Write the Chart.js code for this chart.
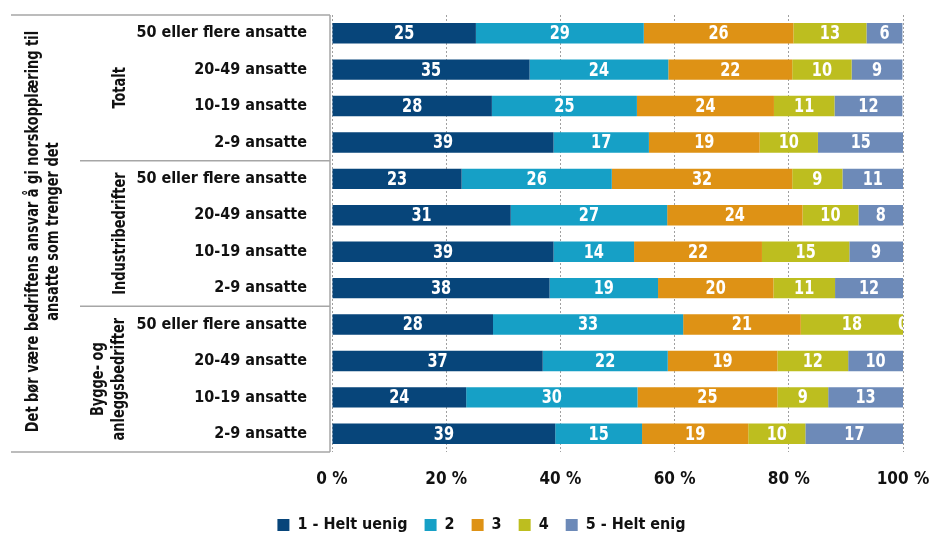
<!DOCTYPE html>
<html>
<head>
<meta charset="utf-8">
<script src="https://cdn.jsdelivr.net/npm/chart.js@4/dist/chart.umd.min.js"></script>
<style>
  html, body { margin: 0; padding: 0; background: #fff; }
  #wrap { width: 931px; height: 536px; }
</style>
</head>
<body>
<div id="wrap"><canvas id="chart"></canvas></div>
<script>
const FONT = '"DejaVu Sans Condensed", "Liberation Sans Narrow", sans-serif';

const categories = [
  '50 eller flere ansatte', '20-49 ansatte', '10-19 ansatte', '2-9 ansatte',
  '50 eller flere ansatte', '20-49 ansatte', '10-19 ansatte', '2-9 ansatte',
  '50 eller flere ansatte', '20-49 ansatte', '10-19 ansatte', '2-9 ansatte'
];
const groups = [['Totalt'], ['Industribedrifter'], ['Bygge- og', 'anleggsbedrifter']];
const outerTitle = ['Det bør være bedriftens ansvar å gi norskopplæring til', 'ansatte som trenger det'];

const seriesNames = ['1 - Helt uenig', '2', '3', '4', '5 - Helt enig'];
const seriesColors = ['#07457a', '#16a0c6', '#de9215', '#bdbe1f', '#6d8ab8'];

const heltUenig = [25.2, 34.6, 28.0, 38.8, 22.7, 31.3, 38.8, 38.1, 28.2, 36.9, 23.5, 39.1];
const s2        = [29.4, 24.3, 25.4, 16.7, 26.3, 27.4, 14.1, 19.0, 33.3, 21.9, 30.0, 15.2];
const s3        = [26.2, 21.7, 24.0, 19.4, 31.6, 23.7, 22.4, 20.2, 20.6, 19.2, 24.5, 18.6];
const s4        = [12.8, 10.4, 10.6, 10.2,  8.8,  9.8, 15.3, 10.8, 17.9, 12.4,  8.9, 10.0];
const heltEnig  = [ 6.3,  8.9, 11.9, 15.0, 10.6,  7.8,  9.4, 11.9,  0.0,  9.6, 13.1, 17.2];
const seriesValues = [heltUenig, s2, s3, s4, heltEnig];

const xTicks = [0, 20, 40, 60, 80, 100];

// draws text squeezed sideways so it looks like the narrow font of the original
function narrowText(ctx, text, x, y, squeeze) {
  ctx.save();
  ctx.translate(x, y);
  ctx.scale(squeeze, 1);
  ctx.fillText(text, 0, 0);
  ctx.restore();
}

// no extra room for overhanging tick labels, the layout padding handles it
function noScalePadding(scale) {
  scale.paddingTop = 0;
  scale.paddingBottom = 0;
  scale.paddingLeft = 0;
  scale.paddingRight = 0;
}

// white value labels in the middle of each segment
const valueLabels = {
  id: 'valueLabels',
  afterDatasetsDraw(chart) {
    const ctx = chart.ctx;
    const area = chart.chartArea;
    ctx.save();
    ctx.beginPath();
    ctx.rect(area.left, area.top - 20, area.right - area.left, area.bottom - area.top + 40);
    ctx.clip();
    ctx.font = 'bold 19px ' + FONT;
    ctx.fillStyle = '#fff';
    ctx.textAlign = 'center';
    ctx.textBaseline = 'middle';
    chart.data.datasets.forEach((ds, i) => {
      chart.getDatasetMeta(i).data.forEach((bar, j) => {
        const cx = (bar.x + bar.base) / 2;
        narrowText(ctx, String(Math.round(ds.data[j])), cx, bar.y + 1, 0.85);
      });
    });
    ctx.restore();
  }
};

// left hand table: frame lines, group labels and the outer title
const sideTable = {
  id: 'sideTable',
  afterDraw(chart) {
    const ctx = chart.ctx;
    const y = chart.scales.y;
    const top = chart.chartArea.top;
    const bottom = chart.chartArea.bottom;
    const axisX = chart.chartArea.left - 2;
    const sep1 = (y.getPixelForValue(3) + y.getPixelForValue(4)) / 2;
    const sep2 = (y.getPixelForValue(7) + y.getPixelForValue(8)) / 2;

    ctx.save();
    ctx.strokeStyle = '#a6a6a6';
    ctx.lineWidth = 1.5;
    ctx.beginPath();
    ctx.moveTo(11, top); ctx.lineTo(axisX, top);
    ctx.moveTo(11, bottom); ctx.lineTo(axisX, bottom);
    ctx.moveTo(axisX, top); ctx.lineTo(axisX, bottom);
    ctx.moveTo(80, sep1); ctx.lineTo(axisX, sep1);
    ctx.moveTo(80, sep2); ctx.lineTo(axisX, sep2);
    ctx.stroke();

    ctx.fillStyle = '#111';
    ctx.font = 'bold 18px ' + FONT;
    ctx.textAlign = 'center';
    ctx.textBaseline = 'middle';

    const drawRotated = (lines, cx, cy, lh) => {
      ctx.save();
      ctx.translate(cx, cy);
      ctx.rotate(-Math.PI / 2);
      const start = -(lines.length - 1) * lh / 2;
      lines.forEach((t, k) => narrowText(ctx, t, 0, start + k * lh, 0.8));
      ctx.restore();
    };

    drawRotated(outerTitle, 43, (top + bottom) / 2 - 2, 20);
    const bounds = [top, sep1, sep2, bottom];
    groups.forEach((g, k) => {
      const cx = g.length > 1 ? 109 : 120;
      drawRotated(g, cx, (bounds[k] + bounds[k + 1]) / 2, 21);
    });
    ctx.restore();
  }
};

// push the legend a little lower, closer to the bottom edge
const legendNudge = {
  id: 'legendNudge',
  afterLayout(chart) {
    chart.legend.top += 7;
    chart.legend.bottom += 7;
  }
};

new Chart(document.getElementById('chart'), {
  type: 'bar',
  data: {
    labels: categories,
    datasets: seriesNames.map((name, i) => ({
      label: name,
      data: seriesValues[i],
      backgroundColor: seriesColors[i],
      borderWidth: 0,
      categoryPercentage: 1,
      barPercentage: 0.56
    }))
  },
  options: {
    indexAxis: 'y',
    responsive: true,
    maintainAspectRatio: false,
    animation: false,
    layout: { padding: { top: 15, right: 28, left: 60, bottom: 0 } },
    scales: {
      x: {
        stacked: true,
        min: 0,
        max: 100,
        afterBuildTicks(scale) { scale.ticks = xTicks.map(v => ({ value: v })); },
        afterFit(scale) { scale.height = 56; noScalePadding(scale); },
        grid: {
          color: '#a0a0a0',
          lineWidth: 1,
          drawTicks: false
        },
        border: { display: false, dash: [2, 2] },
        ticks: {
          color: '#111',
          padding: 17,
          font: { family: FONT, size: 17, weight: 'bold' },
          callback: v => v + ' %'
        }
      },
      y: {
        stacked: true,
        afterFit(scale) { scale.width = 272; noScalePadding(scale); },
        grid: { display: false },
        border: { display: false },
        ticks: {
          color: '#111',
          padding: 17,
          font: { family: FONT, size: 16, weight: 'bold' }
        }
      }
    },
    plugins: {
      legend: {
        position: 'bottom',
        labels: {
          boxWidth: 12,
          boxHeight: 12,
          padding: 2,
          color: '#111',
          font: { family: FONT, size: 16, weight: 'bold' },
          generateLabels(chart) {
            const items = Chart.defaults.plugins.legend.labels.generateLabels(chart);
            items.forEach((it, i) => {
              it.lineWidth = 0;
              if (i < items.length - 1) it.text = it.text + '   ';
            });
            return items;
          }
        }
      },
      tooltip: { enabled: false }
    }
  },
  plugins: [valueLabels, sideTable, legendNudge]
});
</script>
</body>
</html>
